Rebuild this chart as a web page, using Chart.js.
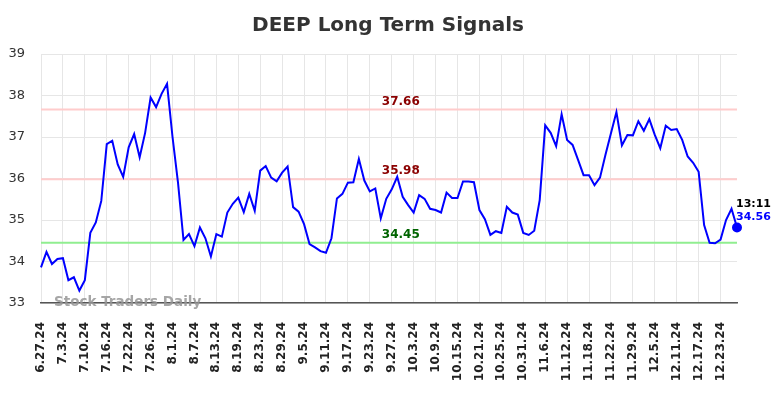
<!DOCTYPE html>
<html>
<head>
<meta charset="utf-8">
<script src="https://cdn.jsdelivr.net/npm/chart.js@4"></script>
<style>
  html, body { margin: 0; padding: 0; background: #fff; }
  #wrap { width: 784px; height: 398px; }
</style>
</head>
<body>
<div id="wrap"><canvas id="myChart" width="784" height="398"></canvas></div>
<script>
const dates = [
  '6.27.24','6.28.24','7.1.24','7.2.24','7.3.24','7.5.24','7.8.24','7.9.24','7.10.24','7.11.24','7.12.24','7.15.24',
  '7.16.24','7.17.24','7.18.24','7.19.24','7.22.24','7.23.24','7.24.24','7.25.24','7.26.24','7.29.24','7.30.24','7.31.24',
  '8.1.24','8.2.24','8.5.24','8.6.24','8.7.24','8.8.24','8.9.24','8.12.24','8.13.24','8.14.24','8.15.24','8.16.24',
  '8.19.24','8.20.24','8.21.24','8.22.24','8.23.24','8.26.24','8.27.24','8.28.24','8.29.24','8.30.24','9.3.24','9.4.24',
  '9.5.24','9.6.24','9.9.24','9.10.24','9.11.24','9.12.24','9.13.24','9.16.24','9.17.24','9.18.24','9.19.24','9.20.24',
  '9.23.24','9.24.24','9.25.24','9.26.24','9.27.24','9.30.24','10.1.24','10.2.24','10.3.24','10.4.24','10.7.24','10.8.24',
  '10.9.24','10.10.24','10.11.24','10.14.24','10.15.24','10.16.24','10.17.24','10.18.24','10.21.24','10.22.24','10.23.24','10.24.24',
  '10.25.24','10.28.24','10.29.24','10.30.24','10.31.24','11.1.24','11.4.24','11.5.24','11.6.24','11.7.24','11.8.24','11.11.24',
  '11.12.24','11.13.24','11.14.24','11.15.24','11.18.24','11.19.24','11.20.24','11.21.24','11.22.24','11.25.24','11.26.24','11.27.24',
  '11.29.24','12.2.24','12.3.24','12.4.24','12.5.24','12.6.24','12.9.24','12.10.24','12.11.24','12.12.24','12.13.24','12.16.24',
  '12.17.24','12.18.24','12.19.24','12.20.24','12.23.24','12.24.24','12.26.24','12.27.24'
];

const prices = [
  33.86, 34.23, 33.94, 34.06, 34.08, 33.55, 33.62, 33.30, 33.55, 34.69, 34.94, 35.46,
  36.83, 36.91, 36.34, 36.04, 36.75, 37.07, 36.51, 37.10, 37.95, 37.72, 38.04, 38.28,
  37.00, 35.90, 34.52, 34.66, 34.37, 34.82, 34.56, 34.12, 34.66, 34.60, 35.18, 35.39,
  35.54, 35.19, 35.63, 35.22, 36.19, 36.30, 36.02, 35.93, 36.14, 36.29, 35.31, 35.20,
  34.90, 34.42, 34.34, 34.25, 34.21, 34.56, 35.52, 35.63, 35.90, 35.91, 36.47, 35.95,
  35.69, 35.76, 35.04, 35.51, 35.74, 36.04, 35.56, 35.36, 35.18, 35.60, 35.51, 35.27,
  35.24, 35.18, 35.66, 35.53, 35.53, 35.93, 35.93, 35.91, 35.24, 35.02, 34.64, 34.73,
  34.69, 35.32, 35.18, 35.13, 34.69, 34.64, 34.74, 35.48, 37.28, 37.10, 36.78, 37.55,
  36.93, 36.81, 36.45, 36.08, 36.08, 35.84, 36.02, 36.57, 37.09, 37.60, 36.80, 37.05,
  37.04, 37.38, 37.15, 37.43, 37.05, 36.73, 37.27, 37.17, 37.19, 36.93, 36.53, 36.38,
  36.16, 34.88, 34.45, 34.44, 34.53, 35.00, 35.27, 34.82
];

// signal levels
const upperLevels = [37.66, 35.98];
const lowerLevels = [34.45];
const lastTime = '13:11';
const lastPriceText = '34.56';
const chartTitle = 'DEEP Long Term Signals';

const yTicks = [33, 34, 35, 36, 37, 38, 39];

// title, signal lines + labels, watermark
const levelsPlugin = {
  id: 'levels',
  beforeDatasetsDraw(chart) {
    const c = chart.ctx;
    const area = chart.chartArea;
    const y = chart.scales.y;
    c.save();
    c.lineWidth = 2;
    upperLevels.forEach(function (v) {
      const py = y.getPixelForValue(v);
      c.strokeStyle = '#ffcccc';
      c.beginPath();
      c.moveTo(area.left, py);
      c.lineTo(area.right, py);
      c.stroke();
    });
    lowerLevels.forEach(function (v) {
      const py = y.getPixelForValue(v);
      c.strokeStyle = '#90ee90';
      c.beginPath();
      c.moveTo(area.left, py);
      c.lineTo(area.right, py);
      c.stroke();
    });
    c.restore();
  },
  afterDatasetsDraw(chart) {
    const c = chart.ctx;
    const area = chart.chartArea;
    const y = chart.scales.y;
    const x = chart.scales.x;
    const midX = area.left + (area.right - area.left) * 0.517;
    c.save();

    // title (centred on the whole canvas)
    c.font = 'bold 20px "DejaVu Sans"';
    c.fillStyle = '#333333';
    c.textAlign = 'center';
    c.textBaseline = 'middle';
    c.fillText(chartTitle, chart.width / 2 - 4, 26);

    c.font = 'bold 12px "DejaVu Sans"';
    upperLevels.forEach(function (v) {
      c.fillStyle = '#8b0000';
      c.fillText(v.toFixed(2), midX, y.getPixelForValue(v) - 8);
    });
    lowerLevels.forEach(function (v) {
      c.fillStyle = '#006400';
      c.fillText(v.toFixed(2), midX, y.getPixelForValue(v) - 8);
    });

    // last value label
    const li = prices.length - 1;
    const lx = x.getPixelForValue(li);
    const ly = y.getPixelForValue(prices[li]);
    c.textAlign = 'left';
    c.font = 'bold 11px "DejaVu Sans"';
    c.fillStyle = '#000';
    c.fillText(lastTime, lx - 1, ly - 23);
    c.fillStyle = '#0000ff';
    c.fillText(lastPriceText, lx - 1, ly - 10);

    // watermark
    c.font = 'bold 13.5px "DejaVu Sans"';
    c.fillStyle = 'rgba(150,150,150,0.85)';
    c.fillText('Stock Traders Daily', area.left + 13, area.bottom - 1);
    c.restore();
  }
};

var ctx = document.getElementById('myChart');
var myChart = new Chart(ctx, {
  type: 'line',
  data: {
    labels: dates,
    datasets: [
      {
        label: 'DEEP',
        data: prices,
        borderColor: '#0000ff',
        backgroundColor: '#0000ff',
        borderWidth: 2,
        fill: false,
        tension: 0,
        pointRadius: function (context) {
          return context.dataIndex === prices.length - 1 ? 4 : 0;
        },
        pointHoverRadius: 0
      }
    ]
  },
  options: {
    responsive: false,
    animation: false,
    devicePixelRatio: 1,
    layout: {
      padding: { left: 0, right: 47, top: 54, bottom: 0 }
    },
    plugins: {
      title: { display: false },
      legend: { display: false },
      tooltip: { enabled: false }
    },
    scales: {
      x: {
        offset: false,
        grid: {
          color: '#e6e6e6',
          drawTicks: false
        },
        border: { display: true, color: '#555555', width: 1.5 },
        ticks: {
          autoSkip: false,
          minRotation: 90,
          maxRotation: 90,
          padding: 19,
          color: '#222222',
          font: { family: '"DejaVu Sans"', size: 12, weight: 'bold' },
          callback: function (value, index) {
            return index % 4 === 0 ? dates[index] : null;
          }
        },
        afterFit: function (scale) {
          scale.height = 95;
        }
      },
      y: {
        min: yTicks[0],
        max: yTicks[yTicks.length - 1],
        grid: {
          color: '#e6e6e6',
          drawTicks: false
        },
        border: { display: false },
        ticks: {
          stepSize: 1,
          padding: 16,
          color: '#333333',
          font: { family: '"DejaVu Sans"', size: 13 }
        },
        afterFit: function (scale) {
          scale.width = 41;
        }
      }
    }
  },
  plugins: [levelsPlugin]
});
</script>
</body>
</html>
